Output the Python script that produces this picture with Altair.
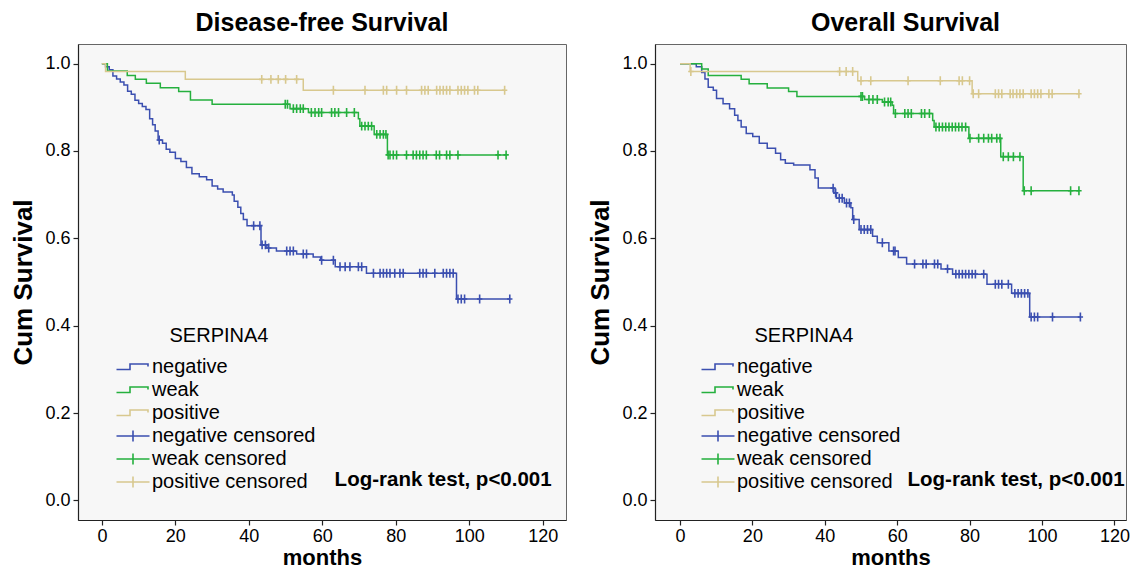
import altair as alt
import pandas as pd

FONT = "Liberation Sans"

# ---------------- data ----------------
# Disease-free survival: step change points (months, survival) and censor times
dfs_neg_t = [0, 1, 2, 3, 4, 5, 6, 7, 8, 9, 10, 11, 12, 13, 13.8, 14.5, 15.3, 16.5, 17.5, 18.5, 20, 21.5,
             23, 24.5, 26.5, 28.5, 30, 31.5, 33, 35.5, 36, 37, 37.8, 38.5, 39.5, 43.3, 44.9, 47.5, 53,
             57.5, 59.5, 63.5, 72, 96.5]
dfs_neg_s = [1.0, 0.993, 0.986, 0.972, 0.965, 0.958, 0.951, 0.937, 0.930, 0.916, 0.909, 0.902, 0.895,
             0.874, 0.860, 0.846, 0.825, 0.818, 0.804, 0.797, 0.783, 0.776, 0.762, 0.748, 0.741, 0.734,
             0.720, 0.713, 0.706, 0.699, 0.685, 0.671, 0.657, 0.643, 0.629, 0.585, 0.578, 0.571, 0.564,
             0.557, 0.550, 0.535, 0.520, 0.461]
dfs_neg_c = [15.6, 41.3, 43.0, 43.6, 44.5, 45.4, 50.3, 51.2, 52.1, 54.8, 55.7, 59.8, 63, 64.8, 66.2, 67.5,
             69.8, 70.7, 73.9, 75.7, 76.6, 77.5, 78.4, 79.7, 81.1, 82, 86.5, 87.4, 88.3, 90.6, 92.9, 93.8,
             94.7, 95.6, 96.9, 97.8, 98.7, 102.8, 111]

dfs_weak_t = [0, 1.5, 6.9, 9.1, 12.1, 15.9, 20.9, 24.1, 30, 51.2, 56.2, 69.8, 70.2, 74.1, 77.7]
dfs_weak_s = [1.0, 0.983, 0.973, 0.964, 0.955, 0.945, 0.936, 0.917, 0.907, 0.897, 0.888, 0.874, 0.857,
              0.838, 0.791]
dfs_weak_c = [49.9, 50.5, 52.1, 53, 54, 54.8, 57, 58, 59, 59.8, 62.5, 63.4, 64.4, 66.6, 68.7, 70.7, 71.6,
              72.5, 73.4, 74.8, 75.7, 76.6, 77.3, 77.9, 78.4, 79.3, 80.2, 82.9, 84.7, 85.6, 86.5, 87.4,
              88.3, 91, 91.9, 93.8, 94.7, 96.9, 107.8, 110]

dfs_pos_t = [0, 1, 22.7, 54.8]
dfs_pos_s = [1.0, 0.982, 0.964, 0.939]
dfs_pos_c = [43.5, 46, 48, 50, 53, 63, 71.6, 76.6, 77.5, 80.2, 82.9, 87, 87.9, 88.8, 91.1, 92, 92.9, 93.8,
             94.7, 96.9, 97.8, 98.7, 99.6, 101.4, 102.3, 109.6]

# Overall survival
os_neg_t = [0, 4.5, 6, 6.9, 7.8, 9.2, 10.1, 11.9, 13.7, 15.1, 16, 16.9, 18.3, 20.1, 21.9, 24.1, 26.4, 27.8,
            29.1, 31.4, 35.9, 37.3, 38.2, 42.5, 43.2, 45.4, 47.2, 47.7, 49.5, 53.2, 54.5, 57.7, 60.3,
            62.6, 72.1, 75.3, 84.8, 91.6, 96.6]
os_neg_s = [1.0, 0.993, 0.980, 0.965, 0.946, 0.939, 0.920, 0.908, 0.897, 0.882, 0.870, 0.855, 0.840,
            0.833, 0.818, 0.806, 0.795, 0.780, 0.772, 0.768, 0.757, 0.738, 0.715, 0.704, 0.692, 0.681,
            0.670, 0.643, 0.620, 0.605, 0.590, 0.571, 0.556, 0.541, 0.530, 0.518, 0.495, 0.474, 0.420]
os_neg_c = [42.3, 43.0, 44.0, 44.8, 46.0, 46.8, 48.0, 50.0, 50.9, 51.8, 52.7, 55.9, 59.0, 59.4, 64.8, 67.1,
            68, 70.3, 71.2, 73.9, 76.2, 77.1, 78, 78.9, 79.8, 80.7, 81.6, 83.9, 87.1, 88, 88.9, 90.7,
            92.5, 93.4, 94.3, 95.2, 96.1, 97, 97.9, 98.8, 102.9, 110.6]

os_weak_t = [0, 6, 7.8, 16.9, 19.1, 24.1, 30, 32.3, 51, 55.9, 58.6, 59.0, 69.8, 70.2, 79.8, 88.6, 94.8]
os_weak_s = [1.0, 0.988, 0.973, 0.964, 0.954, 0.944, 0.936, 0.925, 0.918, 0.912, 0.905, 0.886, 0.870,
             0.855, 0.829, 0.787, 0.709]
os_weak_c = [50, 50.4, 52.2, 53.3, 54.5, 56.5, 57.5, 58.2, 59.5, 62.1, 63, 63.9, 66.7, 67.6, 68.9, 70.7,
             71.6, 72.5, 73.4, 74.3, 75.2, 76.1, 77, 77.9, 78.9, 80.1, 82.5, 83.9, 85.2, 86.1, 87.5,
             88.4, 89.3, 90.7, 92.1, 93.9, 95.1, 97, 107.9, 110.2]

os_pos_t = [0, 2.8, 49.1, 80.7]
os_pos_s = [1.0, 0.982, 0.961, 0.931]
os_pos_c = [3.0, 44.1, 45.9, 47.7, 50, 52.7, 63, 71.9, 77.1, 78, 80, 81.0, 82.5, 87.1, 88, 88.9, 91.2, 92,
            93, 93.9, 94.8, 97, 97.9, 98.8, 99.7, 101.9, 102.8, 110.2]

groups = ["negative", "weak", "positive"]
legend_keys = ["negative", "weak", "positive",
               "negative censored", "weak censored", "positive censored"]
colors = ["#3b4fb0", "#25b03e", "#d8c88e"]

panel_titles = ["Disease-free Survival", "Overall Survival"]
x_ticks = [0, 20, 40, 60, 80, 100, 120]
y_ticks = [0.0, 0.2, 0.4, 0.6, 0.8, 1.0]
logrank_label = "Log-rank test, p<0.001"

# ---------------- helpers ----------------
STEP_PATH = "M-3.3,0.5L-0.6,0.5L-0.6,-0.6L3.0,-0.6L3.0,-0.1"
CROSS_LEG = "M-3.3,0L3.3,0M0,-1.1L0,1.1"
CROSS_DATA = "M-0.6,0L0.6,0M0,-1L0,1"


def surv_at(ts, ss, c):
    v = ss[0]
    for t, s in zip(ts, ss):
        if t <= c:
            v = s
    return v


def build(curves):
    line_rows, cens_rows = [], []
    for g, (ts, ss, cs) in zip(groups, curves):
        for t, s in zip(ts, ss):
            line_rows.append({"key": g, "t": t, "s": s})
        end = max(cs)
        line_rows.append({"key": g, "t": end, "s": surv_at(ts, ss, end)})
        for c in cs:
            cens_rows.append({"key": g + " censored", "t": c, "s": surv_at(ts, ss, c)})
    return pd.DataFrame(line_rows), pd.DataFrame(cens_rows)


def panel(curves, title, xdom, width, legend_x, logrank_x, title_dx):
    lines, cens = build(curves)
    xs = alt.Scale(domain=xdom, nice=False, zero=False)
    ys = alt.Scale(domain=[-0.045, 1.045], nice=False, zero=False)
    cscale = alt.Scale(domain=legend_keys, range=colors + colors)
    sscale = alt.Scale(domain=legend_keys,
                       range=[STEP_PATH, STEP_PATH, STEP_PATH, CROSS_LEG, CROSS_LEG, CROSS_LEG])
    leg = alt.Legend(title="SERPINA4", orient="none", legendX=legend_x, legendY=282,
                     titleFontSize=20, titleFontWeight="normal", titleFont=FONT,
                     titleAnchor="middle", titlePadding=11, titleColor="black",
                     labelFontSize=20, labelFont=FONT, labelColor="black", labelOffset=9,
                     labelLimit=400, symbolSize=100, symbolStrokeWidth=1.6,
                     symbolFillColor="transparent", rowPadding=3, padding=0)
    xenc = alt.X("t:Q", scale=xs, title="months",
                 axis=alt.Axis(values=x_ticks, format="d"))
    yenc = alt.Y("s:Q", scale=ys, title="Cum Survival",
                 axis=alt.Axis(values=y_ticks, format=".1f"))
    line = alt.Chart(lines).mark_line(interpolate="step-after", strokeWidth=1.5).encode(
        x=xenc, y=yenc,
        color=alt.Color("key:N", scale=cscale, legend=leg),
        order="t:Q")
    pts = alt.Chart(cens).mark_point(shape=CROSS_DATA, filled=False, size=80, strokeWidth=1.6,
                                     opacity=1).encode(
        x=xenc, y=yenc, color=alt.Color("key:N", scale=cscale, legend=leg))
    legdf = pd.DataFrame({"key": legend_keys})
    legl = alt.Chart(legdf).transform_filter("false").mark_point(filled=False).encode(
        x=alt.value(0), y=alt.value(0),
        color=alt.Color("key:N", scale=cscale, legend=leg),
        shape=alt.Shape("key:N", scale=sscale, legend=leg))
    lr = alt.Chart(pd.DataFrame({"t": [logrank_x], "s": [0.047], "txt": [logrank_label]})).mark_text(
        align="right", baseline="middle", fontSize=20.5, fontWeight="bold", font=FONT,
        color="black").encode(x=xenc, y=yenc, text="txt:N")
    return alt.layer(line, pts, legl, lr).properties(
        width=width, height=476,
        title=alt.Title(title, fontSize=25, fontWeight="bold", font=FONT, color="black",
                        offset=8, anchor="middle", dx=title_dx))


left = panel([(dfs_neg_t, dfs_neg_s, dfs_neg_c), (dfs_weak_t, dfs_weak_s, dfs_weak_c),
              (dfs_pos_t, dfs_pos_s, dfs_pos_c)], panel_titles[0], [-6.5, 126.3], 488, 45, 122.4, 0)
right = panel([(os_neg_t, os_neg_s, os_neg_c), (os_weak_t, os_weak_s, os_weak_c),
               (os_pos_t, os_pos_s, os_pos_c)], panel_titles[1], [-6.9, 123.2], 471, 53, 122.8, 15)

chart = alt.hconcat(left, right, spacing=20).resolve_scale(
    color="independent", shape="independent", x="independent", y="independent"
).properties(
    padding={"left": 2, "top": 2, "right": 0, "bottom": 0},
    background="white"
).configure_view(
    fill="#f7f7f7", stroke="#666666", strokeWidth=1
).configure_axis(
    grid=False, domainColor="#222222", domainWidth=1.2, tickColor="#222222", tickWidth=1.2,
    labelFont=FONT, titleFont=FONT, labelColor="black", titleColor="black",
    labelFontSize=18, titleFontSize=24, titleFontWeight="bold"
).configure_axisX(
    tickSize=5, labelPadding=2, titlePadding=2, titleFontSize=22
).configure_axisY(
    tickSize=5, labelPadding=3, titlePadding=8, titleFontSize=26
)

chart.save("out.html", embed_options={"renderer": "svg", "actions": False})
